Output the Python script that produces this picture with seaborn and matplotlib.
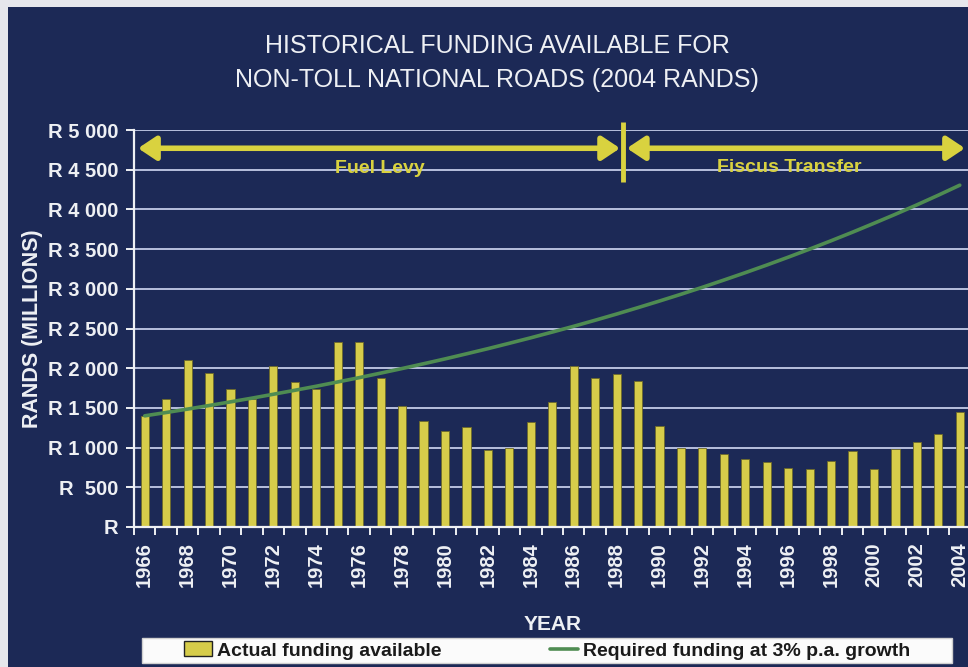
import numpy as np
import pandas as pd
import seaborn as sns
import matplotlib
matplotlib.use("Agg")
import matplotlib.pyplot as plt
from matplotlib import font_manager
from matplotlib.font_manager import FontProperties
from matplotlib.patches import Rectangle, Patch
from matplotlib.lines import Line2D

# ---- data -------------------------------------------------------------
years = list(range(1966, 2005))
actual_funding = [1395, 1610, 2100, 1940, 1740, 1610, 2025, 1830, 1740, 2325,
                  2325, 1880, 1520, 1340, 1205, 1255, 972, 993, 1317, 1578,
                  2033, 1877, 1932, 1835, 1266, 1001, 993, 922, 859, 821,
                  749, 728, 837, 960, 736, 985, 1069, 1170, 1443]
required_funding = [1400, 1442, 1485, 1530, 1576, 1623, 1672, 1722, 1773, 1827,
                    1881, 1938, 1996, 2056, 2117, 2181, 2246, 2314, 2383, 2455,
                    2528, 2604, 2682, 2763, 2846, 2931, 3019, 3110, 3203, 3299,
                    3398, 3500, 3605, 3713, 3825, 3939, 4057, 4179, 4305]
y_ticks = [0, 500, 1000, 1500, 2000, 2500, 3000, 3500, 4000, 4500, 5000]
y_tick_labels = ["R", "R  500", "R 1 000", "R 1 500", "R 2 000", "R 2 500",
                 "R 3 000", "R 3 500", "R 4 000", "R 4 500", "R 5 000"]
year_labels = [str(y) if (y - 1966) % 2 == 0 else "" for y in years]
period_labels = ["Fuel Levy", "Fiscus Transfer"]

# ---- styling ----------------------------------------------------------
NAVY = "#1c2956"
BAR = "#d6cc4a"
GREEN = "#4f8c52"
ARROW = "#d9d23f"
GRID = "#c4cbe8"
TEXT = "#eef0f4"


def pick(families):
    for f in families:
        try:
            font_manager.findfont(FontProperties(family=f), fallback_to_default=False)
            return f
        except Exception:
            continue
    return "DejaVu Sans"


NARROW = pick(["Liberation Sans Narrow", "Liberation Sans", "DejaVu Sans"])
ARIAL = pick(["Liberation Sans", "DejaVu Sans"])

sns.set_theme(style="dark")
plt.rcParams["font.family"] = [ARIAL, "DejaVu Sans"]

W, H = 968, 667
fig = plt.figure(figsize=(W / 100, H / 100), dpi=100)
fig.patch.set_facecolor("#e6e7ec")
fig.add_artist(Rectangle((8 / W, 0), 1, (H - 7) / H, transform=fig.transFigure,
                         facecolor=NAVY, edgecolor="none", zorder=0))

ax = fig.add_axes([134 / W, (H - 527) / H, 836.5 / W, 397 / H])
ax.set_facecolor("none")

df = pd.DataFrame({"year": [str(y) for y in years], "actual": actual_funding})
sns.barplot(data=df, x="year", y="actual", color=BAR, width=0.38,
            saturation=1, edgecolor="#6d6a2a", linewidth=0.6, ax=ax, zorder=3)
sns.lineplot(x=np.arange(len(years)), y=required_funding, color=GREEN,
             linewidth=2.6, ax=ax, zorder=4)

ax.set_xlim(-0.5, len(years) - 0.5)
ax.set_ylim(0, 5000)
ax.set_yticks(y_ticks)
ax.set_yticklabels(y_tick_labels)
ax.set_xticks(np.arange(len(years)))
ax.set_xticklabels(year_labels, rotation=90)
ax.set_xticks(np.arange(len(years) + 1) - 0.5, minor=True)
ax.tick_params(axis="x", which="major", length=0, pad=11, labelsize=14.5,
               labelcolor=TEXT)
ax.tick_params(axis="x", which="minor", length=6, width=1.4, color=TEXT,
               direction="out", bottom=True)
ax.tick_params(axis="y", length=6, width=1.4, color=TEXT, direction="out",
               left=True, pad=5, labelsize=14.5, labelcolor=TEXT)
for lab in ax.get_xticklabels() + ax.get_yticklabels():
    lab.set_fontweight("bold")

ax.grid(False)
for y in y_ticks[1:]:
    ax.axhline(y, color=GRID, linewidth=1.3, zorder=1)
for side in ["top", "right"]:
    ax.spines[side].set_visible(False)
for side in ["left", "bottom"]:
    ax.spines[side].set_color(TEXT)
    ax.spines[side].set_linewidth(1.6)
    ax.spines[side].set_zorder(5)

ax.set_xlabel("YEAR", fontsize=15, color=TEXT, fontweight="bold",
              family=[NARROW, "DejaVu Sans"], labelpad=20)
ax.set_ylabel("RANDS (MILLIONS)", fontsize=15.5, color=TEXT, fontweight="bold",
              labelpad=4)

# funding-source periods with arrows
arrow_y = 4770
split = 22.31
arrow_kw = dict(arrowstyle="<|-|>,head_length=0.9,head_width=0.6",
                color=ARROW, lw=4, shrinkA=0, shrinkB=0)
ax.annotate("", xy=(-0.31, arrow_y), xytext=(22.16, arrow_y),
            arrowprops=arrow_kw, annotation_clip=False, zorder=6)
ax.annotate("", xy=(22.48, arrow_y), xytext=(38.24, arrow_y),
            arrowprops=arrow_kw, annotation_clip=False, zorder=6)
ax.plot([split, split], [4340, 5100], color=ARROW, lw=3.5, clip_on=False,
        zorder=6, solid_capstyle="butt")
ax.text(10.97, 4520, period_labels[0], color=ARROW, fontsize=14,
        fontweight="bold", ha="center", va="center", zorder=6)
ax.text(30.04, 4530, period_labels[1], color=ARROW, fontsize=14,
        fontweight="bold", ha="center", va="center", zorder=6)

title_font = dict(ha="center", va="center", fontsize=18, color=TEXT,
                  family=[NARROW, "DejaVu Sans"])
fig.text(497 / W, 1 - 46 / H, "HISTORICAL FUNDING AVAILABLE FOR", **title_font)
fig.text(497 / W, 1 - 80 / H, "NON-TOLL NATIONAL ROADS (2004 RANDS)", **title_font)

# legend strip
fig.add_artist(Rectangle((142 / W, (H - 663) / H), 810 / W, 25 / H,
                         transform=fig.transFigure, facecolor="#fbfbfb",
                         edgecolor="#d0d0d0", linewidth=1, zorder=2))
handles = [Patch(facecolor=BAR, edgecolor="#222222", linewidth=1),
           Line2D([0], [0], color=GREEN, lw=2.6)]
leg = fig.legend(handles, ["Actual funding available",
                           "Required funding at 3% p.a. growth"],
                 loc="center", bbox_to_anchor=(547 / W, (H - 650.5) / H),
                 ncol=2, frameon=False, handlelength=1.45, handleheight=0.8,
                 handletextpad=0.25, columnspacing=5.6,
                 prop=FontProperties(family=[NARROW, "DejaVu Sans"],
                                     weight="bold", size=14))
for t in leg.get_texts():
    t.set_color("#1a1a1a")
leg.set_zorder(3)

fig.savefig("out.png", dpi=100, facecolor=fig.get_facecolor())
